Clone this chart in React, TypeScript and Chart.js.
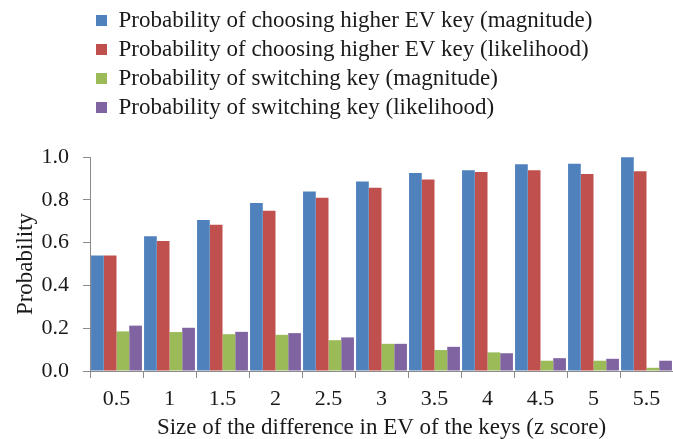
import React, { useEffect, useRef } from 'react';
import { Chart, registerables } from 'chart.js';

Chart.register(...registerables);

const categories = ['0.5', '1', '1.5', '2', '2.5', '3', '3.5', '4', '4.5', '5', '5.5'];
const higherEvMagnitude = [0.54, 0.63, 0.706, 0.785, 0.839, 0.886, 0.925, 0.938, 0.966, 0.969, 0.999];
const higherEvLikelihood = [0.54, 0.608, 0.683, 0.749, 0.81, 0.856, 0.895, 0.93, 0.938, 0.92, 0.933];
const switchMagnitude = [0.185, 0.182, 0.172, 0.169, 0.144, 0.127, 0.098, 0.087, 0.048, 0.048, 0.015];
const switchLikelihood = [0.212, 0.202, 0.183, 0.177, 0.157, 0.127, 0.113, 0.083, 0.06, 0.057, 0.048];

const seriesLabels = [
  'Probability of choosing higher EV key (magnitude)',
  'Probability of choosing higher EV key (likelihood)',
  'Probability of switching key (magnitude)',
  'Probability of switching key (likelihood)',
];
const seriesColors = ['#4F81BD', '#C0504D', '#9BBB59', '#8064A2'];

const FONT = "'Liberation Serif', 'Times New Roman', serif";
const TEXT = '#1a1a1a';
const AXIS = '#8a8a8a';

const legendShift = {
  id: 'legendShift',
  beforeInit(chart: any) {
    const lg = chart.legend;
    if (lg) {
      const fit = lg.fit;
      lg.fit = function () {
        fit.call(this);
        this.height += 28;
      };
    }
  },
  beforeDraw(chart: any) {
    if (chart.legend) chart.legend.left = 90;
  },
};

export default function App() {
  const ref = useRef<HTMLCanvasElement | null>(null);
  useEffect(() => {
    if (!ref.current) return;
    const data = [higherEvMagnitude, higherEvLikelihood, switchMagnitude, switchLikelihood];
    const chart = new Chart(ref.current, {
      type: 'bar',
      data: {
        labels: categories,
        datasets: data.map((d, i) => ({
          label: seriesLabels[i],
          data: d,
          backgroundColor: seriesColors[i],
          borderWidth: 0,
          categoryPercentage: 0.96,
          barPercentage: 1,
        })),
      },
      plugins: [legendShift],
      options: {
        animation: false,
        responsive: true,
        maintainAspectRatio: false,
        layout: { padding: { left: 0, right: 0, top: 3, bottom: 0 } },
        plugins: {
          tooltip: { enabled: false },
          legend: {
            position: 'top',
            align: 'start',
            labels: {
              boxWidth: 11,
              boxHeight: 11,
              padding: 6,
              color: TEXT,
              font: { family: FONT, size: 23 },
            },
          },
        },
        scales: {
          x: {
            grid: { offset: true, drawOnChartArea: false, drawTicks: true, tickLength: 7, color: AXIS },
            border: { color: AXIS },
            ticks: { color: TEXT, font: { family: FONT, size: 22 }, padding: 8 },
            title: {
              display: true,
              text: 'Size of the difference in EV of the keys (z score)',
              color: TEXT,
              font: { family: FONT, size: 23, lineHeight: 1.0 },
              padding: { top: 0, bottom: 0 },
            },
            afterFit(scale: any) {
              scale.height = 68;
            },
          },
          y: {
            min: 0,
            max: 1,
            grid: { drawOnChartArea: false, drawTicks: true, tickLength: 7, color: AXIS },
            border: { color: AXIS },
            ticks: {
              stepSize: 0.2,
              color: TEXT,
              font: { family: FONT, size: 22 },
              padding: 14,
              callback: (v: any) => Number(v).toFixed(1),
            },
            title: {
              display: true,
              text: 'Probability',
              color: TEXT,
              font: { family: FONT, size: 23, lineHeight: 1.0 },
              padding: { top: 14, bottom: 0 },
            },
            afterFit(scale: any) {
              scale.width = 90;
            },
          },
        },
      },
    });
    return () => chart.destroy();
  }, []);
  return (
    <div style={{ position: 'absolute', left: 0, top: 0, width: 673, height: 439, background: '#fff' }}>
      <canvas ref={ref} />
    </div>
  );
}
